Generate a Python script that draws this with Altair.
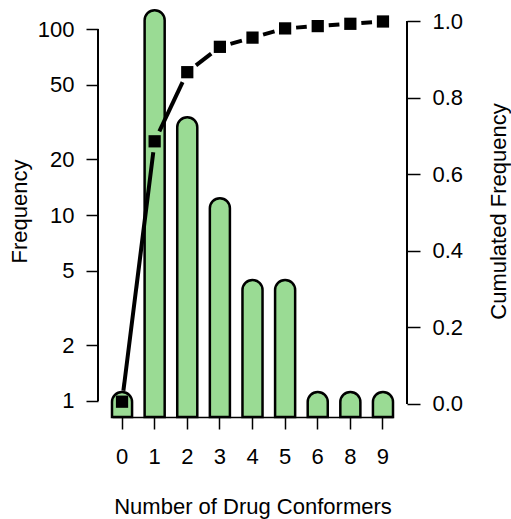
import math
import altair as alt
import pandas as pd

conformers = ["0", "1", "2", "3", "4", "5", "6", "8", "9"]
frequency = [1, 113, 30, 11, 4, 4, 1, 1, 1]
total = sum(frequency)
cumulative = []
running = 0
for f in frequency:
    running += f
    cumulative.append(running / total)

left_ticks = [1, 2, 5, 10, 20, 50, 100]
right_ticks = [0.0, 0.2, 0.4, 0.6, 0.8, 1.0]

df = pd.DataFrame({"n": conformers, "freq": frequency, "cum": cumulative})

FONT = "Liberation Sans"
FS = 22
W, H = 281, 412
PAD_INNER = 0.385
y_left_domain = [0.8203, 134.6]
y_right_domain = [-0.034, 1.0431]
GAP = 11  # gap (px) left between line segments and point symbols (R type="b")

# segments between consecutive cumulative points, shortened at both ends
step = W / (len(conformers) - PAD_INNER)
ppu = H / (y_right_domain[1] - y_right_domain[0])
segs = []
for i in range(len(conformers) - 1):
    dxp = step
    dyp = -(cumulative[i + 1] - cumulative[i]) * ppu
    L = math.hypot(dxp, dyp)
    ux, uy = dxp / L, dyp / L
    segs.append({
        "n1": conformers[i], "n2": conformers[i + 1],
        "c1": cumulative[i], "c2": cumulative[i + 1],
        "ox1": GAP * ux, "oy1": GAP * uy,
        "ox2": -GAP * ux, "oy2": -GAP * uy,
    })
seg_df = pd.DataFrame(segs)

x_scale = alt.Scale(domain=conformers, paddingInner=PAD_INNER, paddingOuter=0.0)

x_enc = alt.X(
    "n:N",
    scale=x_scale,
    axis=alt.Axis(
        title="Number of Drug Conformers",
        labelAngle=0,
        domain=True,
        domainColor="black",
        domainWidth=1.5,
        tickColor="black",
        tickWidth=1.5,
        tickSize=12,
        labelPadding=17,
        labelFontSize=FS,
        labelColor="black",
        titleFontSize=FS,
        titleFontWeight="normal",
        titleColor="black",
        titlePadding=29,
    ),
)

bars = alt.Chart(df).mark_bar(
    color="#9ADB94",
    stroke="black",
    strokeWidth=2.5,
    cornerRadiusTopLeft=10,
    cornerRadiusTopRight=10,
    yOffset=-9,
    y2Offset=0,
).encode(
    x=x_enc,
    y=alt.Y(
        "freq:Q",
        scale=alt.Scale(type="log", domain=y_left_domain, nice=False, zero=False),
        axis=alt.Axis(
            title="Frequency",
            values=left_ticks,
            format="d",
            domain=False,
            offset=14,
            grid=False,
            tickColor="black",
            tickWidth=1.5,
            tickSize=12,
            labelPadding=12,
            labelFontSize=FS,
            labelColor="black",
            titleFontSize=FS,
            titleFontWeight="normal",
            titleColor="black",
            titlePadding=6,
        ),
    ),
    y2=alt.datum(y_left_domain[0]),
)

left_rule = alt.Chart(df).mark_rule(color="black", strokeWidth=1.5).encode(
    x=alt.value(-14),
    y=alt.datum(left_ticks[0]),
    y2=alt.datum(left_ticks[-1]),
)

left_layer = alt.layer(bars, left_rule)

right_scale = alt.Scale(domain=y_right_domain, nice=False, zero=False)
y_right = alt.Y(
    "cum:Q",
    scale=right_scale,
    axis=alt.Axis(
        title="Cumulated Frequency",
        orient="right",
        values=right_ticks,
        format=".1f",
        domain=False,
        offset=14,
        grid=False,
        tickColor="black",
        tickWidth=1.5,
        tickSize=13,
        labelPadding=12,
        labelFontSize=FS,
        labelColor="black",
        titleFontSize=FS,
        titleFontWeight="normal",
        titleColor="black",
        titleAngle=270,
        titlePadding=48,
    ),
)

segments = alt.Chart(seg_df).mark_rule(
    color="black",
    strokeWidth=4,
    strokeCap="butt",
    xOffset=alt.ExprRef(expr="datum.ox1"),
    x2Offset=alt.ExprRef(expr="datum.ox2"),
    yOffset=alt.ExprRef(expr="datum.oy1"),
    y2Offset=alt.ExprRef(expr="datum.oy2"),
).encode(
    x=alt.X("n1:N", scale=x_scale),
    x2="n2:N",
    y=alt.Y("c1:Q", scale=right_scale),
    y2="c2:Q",
)

points = alt.Chart(df).mark_point(
    shape="square", filled=True, color="black", size=150, opacity=1
).encode(x=alt.X("n:N", scale=x_scale), y=y_right)

right_rule = alt.Chart(df).mark_rule(color="black", strokeWidth=1.5).encode(
    x=alt.value(W + 14),
    y=alt.datum(right_ticks[0]),
    y2=alt.datum(right_ticks[-1]),
)

right_layer = alt.layer(points, segments, right_rule)

chart = (
    alt.layer(left_layer, right_layer)
    .resolve_scale(y="independent")
    .properties(
        width=W,
        height=H,
        autosize=alt.AutoSizeParams(type="none"),
        padding={"left": 112, "top": 5, "right": 118, "bottom": 102},
        background="white",
    )
    .configure(font=FONT)
    .configure_view(stroke="transparent", strokeWidth=0)
)

chart.save("out.html", embed_options={"renderer": "svg", "actions": False})
